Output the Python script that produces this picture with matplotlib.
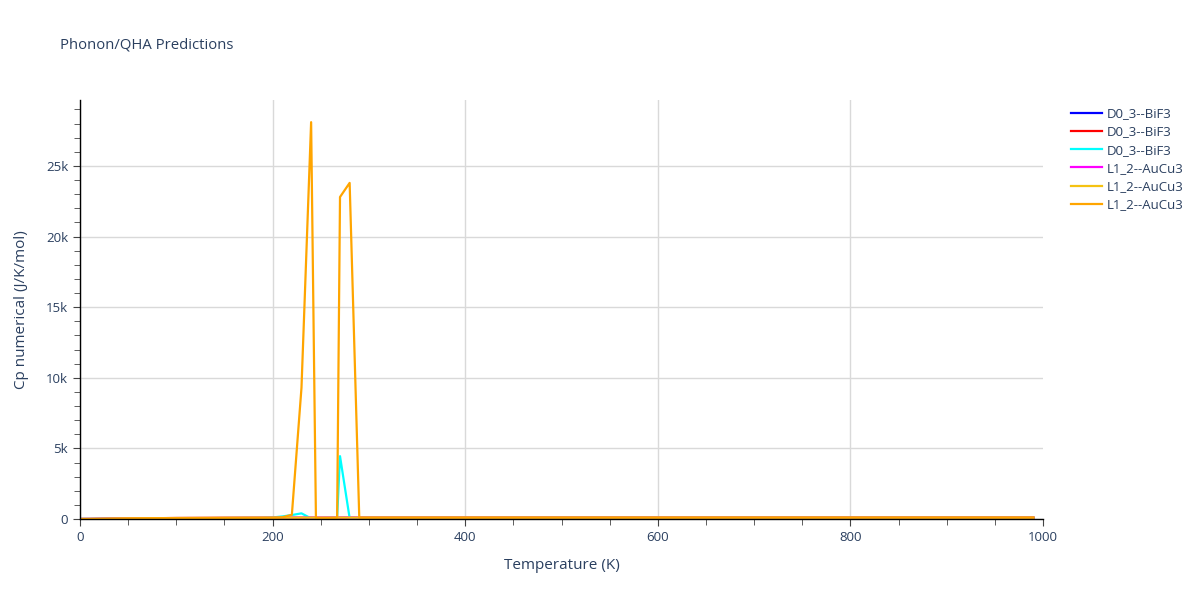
import matplotlib.pyplot as plt
from matplotlib.ticker import FuncFormatter, MultipleLocator

plt.rcParams['font.family'] = ['Open Sans', 'DejaVu Sans']

# temperatures (K) and Cp numerical (J/K/mol)
temp_bif3 = [0, 10, 20, 50, 100, 150, 190, 200, 210, 220, 230, 240, 250, 260, 267, 270, 280, 290, 300,
             400, 500, 600, 700, 800, 900, 990]
cp_bif3_a = [0, 2, 8, 30, 55, 65, 70, 72, 73, 74, 75, 75, 76, 76, 76, 77, 77, 77, 78,
             79, 80, 80, 81, 81, 82, 82]
cp_bif3_b = [0, 2, 9, 31, 56, 66, 71, 72, 73, 74, 75, 76, 76, 77, 77, 77, 78, 78, 78,
             79, 80, 81, 81, 82, 82, 83]
cp_bif3_c = [0, 2, 8, 30, 55, 65, 80, 110, 180, 280, 400, 40, 60, 70, 80, 4450, 60, 70, 75,
             79, 80, 80, 81, 81, 82, 82]

temp_aucu3 = [0, 10, 20, 50, 100, 150, 200, 210, 220, 230, 240, 245, 250, 260, 267, 270, 280, 290, 300,
              400, 500, 600, 700, 800, 900, 990]
cp_aucu3_a = [0, 3, 10, 40, 70, 85, 92, 93, 94, 95, 95, 96, 96, 96, 97, 97, 97, 97, 98,
              98, 99, 99, 100, 100, 101, 101]
cp_aucu3_b = [0, 3, 10, 40, 70, 85, 92, 93, 94, 95, 95, 96, 96, 96, 97, 97, 97, 97, 98,
              98, 99, 99, 100, 100, 101, 101]
cp_aucu3_c = [0, 3, 10, 40, 70, 85, 92, 120, 300, 9300, 28100, 60, 60, 70, 80, 22800, 23800, 90, 95,
              97, 98, 98, 99, 99, 100, 100]

series = [
    (temp_bif3, cp_bif3_a, 'D0_3--BiF3', 'blue'),
    (temp_bif3, cp_bif3_b, 'D0_3--BiF3', 'red'),
    (temp_bif3, cp_bif3_c, 'D0_3--BiF3', 'cyan'),
    (temp_aucu3, cp_aucu3_a, 'L1_2--AuCu3', 'magenta'),
    (temp_aucu3, cp_aucu3_b, 'L1_2--AuCu3', '#f5c211'),
    (temp_aucu3, cp_aucu3_c, 'L1_2--AuCu3', 'orange'),
]

text_col = '#2a3f5f'

fig = plt.figure(figsize=(12, 6), dpi=100)
ax = fig.add_axes([80 / 1200, 81 / 600, 963 / 1200, 419 / 600])

for t, cp, name, col in series:
    ax.plot(t, cp, color=col, lw=1.6, label=name)

ax.set_xlim(0, 1000)
ax.set_ylim(0, 29670)
ax.xaxis.set_major_locator(MultipleLocator(200))
ax.xaxis.set_minor_locator(MultipleLocator(50))
ax.yaxis.set_major_locator(MultipleLocator(5000))
ax.yaxis.set_minor_locator(MultipleLocator(1000))
ax.yaxis.set_major_formatter(FuncFormatter(lambda v, p: '0' if v == 0 else f'{int(v / 1000)}k'))

ax.grid(True, which='major', color='#d9d9d9', lw=1)
ax.set_axisbelow(True)
for s in ['top', 'right']:
    ax.spines[s].set_visible(False)
for s in ['left', 'bottom']:
    ax.spines[s].set_color('black')
    ax.spines[s].set_linewidth(1)

ax.tick_params(which='major', length=5, color='#444444', labelcolor=text_col, labelsize=9.5)
ax.tick_params(which='minor', length=4, color='#444444')

ax.set_xlabel('Temperature (K)', color=text_col, fontsize=11, labelpad=10)
ax.set_ylabel('Cp numerical (J/K/mol)', color=text_col, fontsize=11, labelpad=12)
fig.text(60 / 1200, 1 - 45 / 600, 'Phonon/QHA Predictions', color=text_col, fontsize=10.7, va='center')

leg = ax.legend(loc='upper left', bbox_to_anchor=(1.02, 1.005), frameon=False, fontsize=9.5,
                handlelength=2.3, handletextpad=0.35, labelspacing=0.4, borderaxespad=0.3)
for txt in leg.get_texts():
    txt.set_color(text_col)

fig.canvas.draw()
# no gridline on the right edge
for gl in ax.get_xgridlines():
    if gl.get_xdata()[0] >= 1000:
        gl.set_visible(False)

fig.savefig('out.png', dpi=100)
